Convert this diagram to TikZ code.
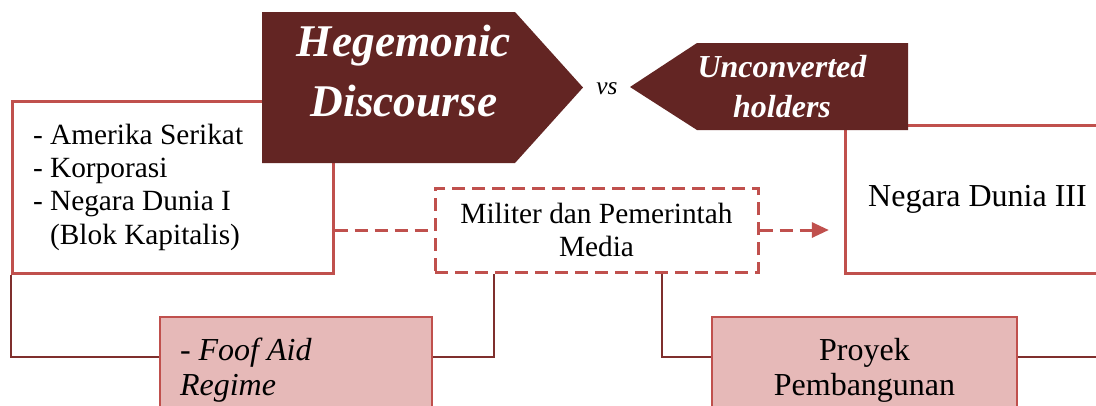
\documentclass[tikz,border=0pt]{standalone}
\usepackage{fontspec}
\setmainfont{Liberation Serif}
\usetikzlibrary{arrows.meta}

\definecolor{darkred}{HTML}{632523}
\definecolor{boxred}{HTML}{C0504D}
\definecolor{linkred}{HTML}{7F2F2D}
\definecolor{pinkfill}{HTML}{E6B9B8}

\tikzset{
  plainbox/.style={draw=boxred, line width=2.25pt, fill=white},
  dashbox/.style={draw=boxred, line width=2.25pt, dash pattern=on 9.75pt off 5.25pt, fill=white},
  pinkbox/.style={draw=boxred, line width=1.5pt, fill=pinkfill},
  link/.style={draw=linkred, line width=1.5pt},
  dashlink/.style={draw=boxred, line width=2.25pt, dash pattern=on 9.75pt off 5.25pt},
  headtext/.style={text=white, align=center}
}

\begin{document}
\begin{tikzpicture}[x=0.75pt, y=-0.75pt]
            %\draw[step=50,gray,very thin] (0,0) grid (1096,405);
            \clip (0,0) rectangle (1096,405);
            \fill[white] (0,0) rectangle (1096,405);

            \node[plainbox, align=flush left, text width=209.25pt, inner xsep=15.75pt, minimum height=129pt, font=\fontsize{22}{25}\selectfont] at (172.5,187) (blok1) {- Amerika Serikat\\- Korporasi\\- Negara Dunia I\\\phantom{-\ }(Blok Kapitalis)};

            \node[plainbox, minimum width=198.75pt, minimum height=111pt, font=\fontsize{24}{28}\selectfont] at (977.5,199) (dunia3) {Negara Dunia III};

            \node[dashbox, align=center, minimum width=242.25pt, minimum height=63pt, font=\fontsize{22}{25}\selectfont] at (596.5,230) (media) {Militer dan Pemerintah\\Media};

            \node[pinkbox, align=flush left, text width=174pt, inner xsep=15pt, minimum height=79.5pt, font=\fontsize{24}{26.25}\selectfont\itshape] at (296,370) (foof) {- Foof Aid\\Regime};

            \node[pinkbox, align=center, minimum width=228.75pt, minimum height=79.5pt, font=\fontsize{24}{26.25}\selectfont] at (864.5,370) (proyek) {Proyek\\Pembangunan};

            % the two headers
            \fill[darkred] (262,12) -- (515,12) -- (583,87.5) -- (515,163) -- (262,163) -- cycle;
            \node[headtext, font=\fontsize{34}{45}\selectfont\bfseries\itshape] at (404,71) (hegem) {Hegemonic\\Discourse};

            \fill[darkred] (630,87) -- (697,43) -- (908,43) -- (908,130) -- (697,130) -- cycle;
            \node[headtext, font=\fontsize{24}{30}\selectfont\bfseries\itshape] at (782,86.5) (unconv) {Unconverted\\holders};

            \node[font=\fontsize{19}{20}\selectfont\itshape] at (607,89) (vs) {vs};

            % connectors
            \coordinate (row) at (0,357);
            \coordinate (dropA) at (494,0);
            \coordinate (dropB) at (662,0);
            \draw[link] (blok1.south west) |- (foof.west |- row);
            \draw[link] (foof.east |- row) -| (media.south -| dropA);
            \draw[link] (media.south -| dropB) |- (proyek.west |- row);
            \draw[link] (proyek.east |- row) -| (dunia3.south east);

            \draw[dashlink] (blok1.east |- media.west) -- (media.west);
            \draw[dashlink, -{Triangle[length=12.75pt,width=11.25pt]}, shorten >=11pt] (media.east) -- (dunia3.west |- media.east);
\end{tikzpicture}
\end{document}
